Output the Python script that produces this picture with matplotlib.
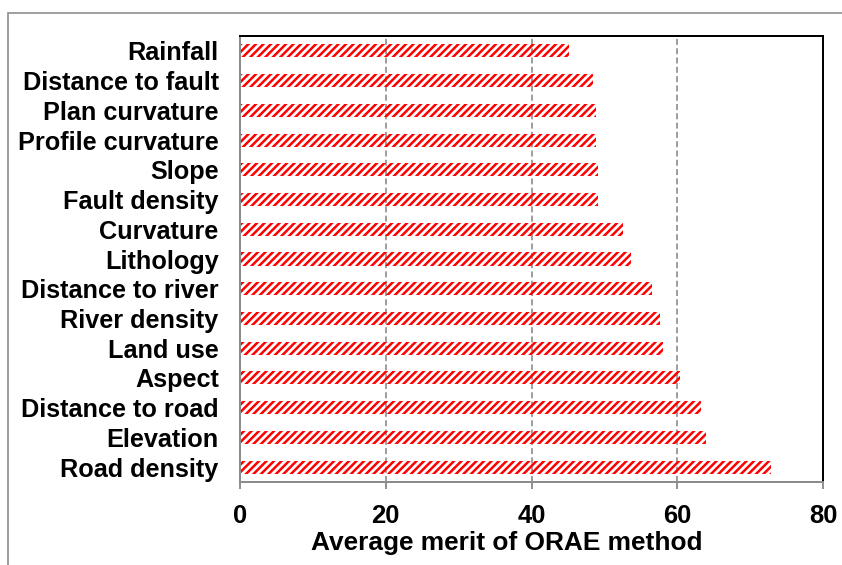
import matplotlib
matplotlib.use("Agg")
import matplotlib.pyplot as plt
from matplotlib.patches import Rectangle

categories = ["Rainfall", "Distance to fault", "Plan curvature", "Profile curvature",
              "Slope", "Fault density", "Curvature", "Lithology", "Distance to river",
              "River density", "Land use", "Aspect", "Distance to road", "Elevation",
              "Road density"]
values = [45.2, 48.5, 48.9, 48.9, 49.1, 49.1, 52.6, 53.7, 56.6, 57.7, 58.0, 60.4, 63.3, 63.9, 72.8]
xticks = [0, 20, 40, 60, 80]
xlabel = "Average merit of ORAE method"

DPI = 90
plt.rcParams['font.family'] = ['Liberation Sans', 'DejaVu Sans']
plt.rcParams['hatch.linewidth'] = 2.0

fig = plt.figure(figsize=(842 / DPI, 565 / DPI), dpi=DPI)
W, H = 842, 565
ax = fig.add_axes([240 / W, 1 - 482 / H, (823 - 240) / W, (482 - 36) / H])

# outer border
fig.patches.append(Rectangle((8 / W, -0.1), 2, 1 - 13 / H + 0.1, transform=fig.transFigure,
                             fill=False, edgecolor='#8c8c8c', linewidth=1.3, zorder=0))

ypos = list(range(len(categories)))
ax.barh(ypos, values, height=0.44, facecolor='none', edgecolor='#ff0000',
        hatch='////', linewidth=0, zorder=2)

ax.set_ylim(len(categories) - 0.5, -0.5)
ax.set_yticks(ypos)
ax.set_yticklabels(categories, fontsize=20.2, fontweight='bold')
ax.tick_params(axis='y', length=0, pad=17)

ax.set_xlim(0, 80)
ax.set_xticks(xticks)
ax.set_xticklabels([str(t) for t in xticks], fontsize=20.5, fontweight='bold')
ax.tick_params(axis='x', length=5.6, width=1.5, color='#8c8c8c', pad=12)
ax.set_xlabel(xlabel, fontsize=21, fontweight='bold')
ax.xaxis.set_label_coords((507 - 240) / (823 - 240), -(543 - 482) / (482 - 36), transform=ax.transAxes)
ax.xaxis.label.set_verticalalignment('center')

for x in [20, 40, 60]:
    ax.axvline(x, color='#808080', linewidth=1.2, dashes=(4, 2.2), zorder=1)

for s in ['top', 'right']:
    ax.spines[s].set_color('black')
    ax.spines[s].set_linewidth(1.6)
for s in ['left', 'bottom']:
    ax.spines[s].set_color('#8c8c8c')
    ax.spines[s].set_linewidth(1.6)

fig.savefig("out.png", dpi=DPI)
